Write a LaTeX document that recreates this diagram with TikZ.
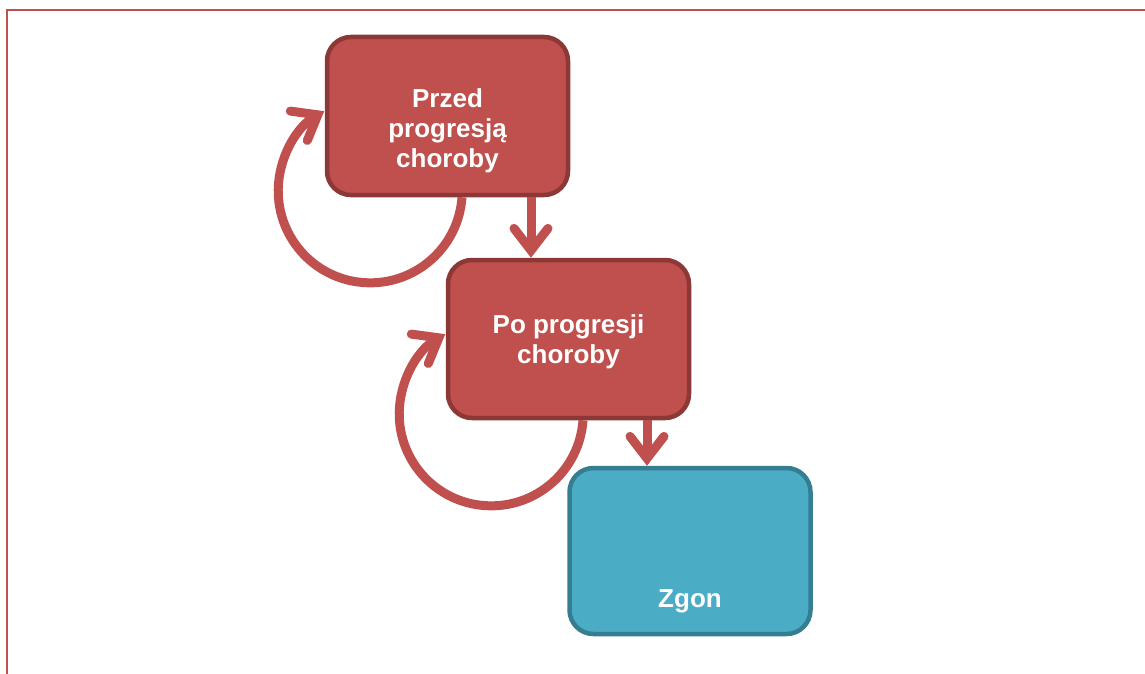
\documentclass[tikz,border=0pt]{standalone}
\usepackage{fontspec}
\setmainfont{Liberation Sans}
\usetikzlibrary{arrows.meta,positioning,calc}
\definecolor{stanred}{HTML}{C0504D}
\definecolor{stanredline}{HTML}{8C3836}
\definecolor{zgonblue}{HTML}{4BACC6}
\definecolor{zgonline}{HTML}{357D91}

\begin{document}
\begin{tikzpicture}[x=1pt,y=-1pt,
    stan/.style={rectangle,rounded corners=24pt,line width=4.5pt,minimum width=241pt,minimum height=158pt,draw=stanredline,fill=stanred},
    opis/.style={text=white,font=\fontsize{26}{30}\selectfont\bfseries,align=center},
    strzalka/.style={line width=9pt,draw=stanred,-{Straight Barb[length=22pt,width=34pt,line cap=round]}}]
                \useasboundingbox (0,0) rectangle (1145,674);
                % frame
                \draw[stanred,line width=1.5pt] (7,674) -- (7,10) -- (1145,10);
                \node[stan] (b1) at (447.5,116) {};
                \node[stan] (b2) at (568.5,339) {};
                \node[stan,draw=zgonline,fill=zgonblue,minimum height=166pt] (zgon) at (690,551) {};
                \node[opis] (t1) at ([yshift=-15pt]b1.center) {Przed\\progresją\\choroby};
                \node[opis] (t2) at ([yshift=-3pt]b2.center) {Po progresji\\choroby};
                \node[opis] (t3) at ([yshift=35pt]zgon.south) {Zgon};
                \draw[strzalka] ([xshift=83.5pt]b1.south) -- ([xshift=83.5pt]b1.south |- b2.north);
                \draw[strzalka] ([xshift=78.5pt]b2.south) -- ([xshift=78.5pt]b2.south |- zgon.north);
                \draw[strzalka] ([xshift=14.5pt]b1.south) arc[start angle=-4,end angle=-240,radius=92pt];
                \draw[strzalka] ([xshift=14.5pt]b2.south) arc[start angle=-4,end angle=-240,radius=92pt];
            \end{tikzpicture}
\end{document}
